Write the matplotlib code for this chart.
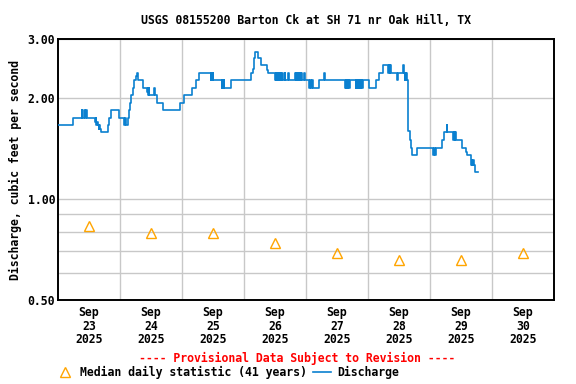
import matplotlib

matplotlib.use("Agg")
import matplotlib.pyplot as plt
from matplotlib.lines import Line2D
from matplotlib.ticker import FixedLocator, NullFormatter

# discharge, step values (hours after Sep 23 00:00, cfs)
hours = [
    0.0, 5.92, 9.17, 9.4, 10.18, 10.45, 10.84, 11.1,
    14.3, 14.6, 14.8, 15.1, 15.4, 15.75, 16.0, 16.26, 16.65,
    19.24, 19.86, 20.5, 23.73, 25.66, 26.05, 26.3, 26.98,
    27.6, 27.87, 28.37, 28.92, 29.54, 30.08, 30.39, 31.16, 32.79,
    34.45, 34.7, 34.96, 35.1, 35.34, 37.28, 37.47, 38.44, 40.53,
    47.23, 48.89, 51.76, 53.42, 54.7,
    59.1, 59.35, 59.6, 59.85, 60.1, 63.37, 63.6, 63.87, 64.14, 64.38, 66.97,
    74.83, 75.37, 75.87, 76.26, 77.54, 78.58, 80.79, 81.41,
    84.0, 84.25, 84.5, 84.75, 85.0, 85.25, 85.5, 85.75, 86.0, 86.25, 86.5, 86.75, 87.0,
    87.86, 88.05, 89.15, 89.35,
    91.75, 92.0, 92.25, 92.5, 92.75, 93.0, 93.25, 93.5, 93.75, 94.0, 94.25, 94.5,
    95.23, 95.45, 97.28, 97.55, 97.94, 98.2, 98.59, 101.15, 102.97, 103.47,
    111.1, 111.35, 111.6, 111.85, 112.1, 112.35, 112.6, 112.85,
    115.2, 115.45, 115.7, 115.95, 116.2, 116.45, 116.7, 116.95, 117.2, 117.45, 117.7, 117.95,
    120.5, 123.1, 124.1, 125.7,
    127.9, 128.15, 128.4, 128.65, 128.8,
    131.3, 131.55, 133.66, 133.85, 134.3, 134.5, 134.7, 134.9, 135.0,
    135.3, 135.6, 136.3, 136.6, 137.2, 139.1, 145.3, 145.6, 145.9, 146.2, 146.6,
    148.5, 149.5, 150.4, 150.6,
    153.0, 153.25, 153.5, 153.75, 154.0, 156.3, 157.9, 158.4,
    159.9, 160.15, 160.4, 160.65, 160.9, 161.5, 162.5,
]
cfs = [
    1.66, 1.74, 1.84, 1.74, 1.84, 1.74, 1.84, 1.74,
    1.70, 1.74, 1.66, 1.70, 1.66, 1.62, 1.66, 1.62, 1.58,
    1.66, 1.74, 1.84, 1.74, 1.66, 1.74, 1.66, 1.74,
    1.84, 1.93, 2.04, 2.14, 2.26, 2.32, 2.37, 2.26, 2.14,
    2.09, 2.14, 2.04, 2.14, 2.04, 2.14, 2.04, 1.93, 1.84,
    1.93, 2.04, 2.14, 2.26, 2.37,
    2.26, 2.37, 2.26, 2.37, 2.26, 2.14, 2.26, 2.14, 2.26, 2.14, 2.26,
    2.37, 2.45, 2.63, 2.75, 2.63, 2.51, 2.42, 2.37,
    2.26, 2.37, 2.26, 2.37, 2.26, 2.37, 2.26, 2.37, 2.26, 2.37, 2.26, 2.37, 2.26,
    2.37, 2.26, 2.37, 2.26,
    2.37, 2.26, 2.37, 2.26, 2.37, 2.26, 2.37, 2.26, 2.37, 2.26, 2.37, 2.26,
    2.37, 2.26, 2.14, 2.26, 2.14, 2.26, 2.14, 2.26, 2.37, 2.26,
    2.14, 2.26, 2.14, 2.26, 2.14, 2.26, 2.14, 2.26,
    2.14, 2.26, 2.14, 2.26, 2.14, 2.26, 2.14, 2.26, 2.14, 2.26, 2.14, 2.26,
    2.14, 2.26, 2.37, 2.51,
    2.37, 2.51, 2.37, 2.51, 2.37,
    2.26, 2.37, 2.51, 2.37, 2.26, 2.37, 2.26, 2.37, 2.26,
    1.84, 1.59, 1.50, 1.42, 1.35, 1.42, 1.35, 1.42, 1.35, 1.42, 1.42,
    1.50, 1.58, 1.66, 1.58,
    1.50, 1.58, 1.50, 1.58, 1.50, 1.42, 1.38, 1.35,
    1.26, 1.31, 1.26, 1.31, 1.26, 1.20, 1.20,
]

# median daily statistic at noon of each day
median_hours = [12, 36, 60, 84, 108, 132, 156, 180]
median_cfs = [0.83, 0.79, 0.79, 0.74, 0.69, 0.66, 0.66, 0.69]

day_labels = ["Sep\n23\n2025", "Sep\n24\n2025", "Sep\n25\n2025", "Sep\n26\n2025",
              "Sep\n27\n2025", "Sep\n28\n2025", "Sep\n29\n2025", "Sep\n30\n2025"]

plt.rcParams["font.family"] = "DejaVu Sans Mono"
plt.rcParams["font.weight"] = "bold"
FS = 8.3
LINE = "#0a80d0"
ORANGE = "#ffa500"

fig = plt.figure(figsize=(5.76, 3.84), dpi=100)
ax = fig.add_axes([58 / 576, 1 - 300 / 384, 496 / 576, 261 / 384])

ax.plot(hours, cfs, drawstyle="steps-post", color=LINE, linewidth=1.2, zorder=3)
ax.plot(median_hours, median_cfs, linestyle="none", marker="^", markersize=7.5,
        markerfacecolor="none", markeredgecolor=ORANGE, markeredgewidth=1.0, zorder=4)

ax.set_yscale("log")
ax.set_ylim(0.5, 3.0)
ax.set_xlim(0, 192)
ax.yaxis.set_major_locator(FixedLocator([0.5, 1.0, 2.0, 3.0]))
ax.yaxis.set_minor_locator(FixedLocator([0.6, 0.7, 0.8, 0.9]))
ax.yaxis.set_minor_formatter(NullFormatter())
ax.set_yticklabels(["0.50", "1.00", "2.00", "3.00"], fontsize=FS, fontweight="bold")
ax.xaxis.set_major_locator(FixedLocator(median_hours))
ax.xaxis.set_minor_locator(FixedLocator([24 * k for k in range(1, 8)]))
ax.set_xticklabels(day_labels, fontsize=FS, fontweight="bold", linespacing=1.05)
ax.tick_params(axis="both", which="both", length=0)
ax.tick_params(axis="x", pad=4.5)
ax.tick_params(axis="y", pad=2)

ax.grid(True, which="minor", color="#c8c8c8", linewidth=1.0)
ax.grid(True, which="major", axis="y", color="#c8c8c8", linewidth=1.0)
ax.set_axisbelow(True)
for s in ax.spines.values():
    s.set_linewidth(1.4)

ax.set_ylabel("Discharge, cubic feet per second", fontsize=FS, fontweight="bold", labelpad=4)
ax.set_title("USGS 08155200 Barton Ck at SH 71 nr Oak Hill, TX", fontsize=FS,
             fontweight="bold", pad=11)

fig.text(297 / 576, 1 - 358 / 384, "---- Provisional Data Subject to Revision ----",
         color="red", fontsize=FS, fontweight="bold", ha="center", va="center")

handles = [
    Line2D([], [], linestyle="none", marker="^", markersize=7.5, markerfacecolor="none",
           markeredgecolor=ORANGE, markeredgewidth=1.0),
    Line2D([], [], color=LINE, linewidth=1.2),
]
fig.legend(handles, ["Median daily statistic (41 years)", "Discharge"],
           loc="center left", bbox_to_anchor=(50 / 576, 1 - 372 / 384), ncol=2,
           frameon=False, prop={"size": FS, "weight": "bold"},
           handlelength=1.6, handletextpad=0.5, columnspacing=0.5, borderpad=0)

fig.savefig("out.png", dpi=100)
